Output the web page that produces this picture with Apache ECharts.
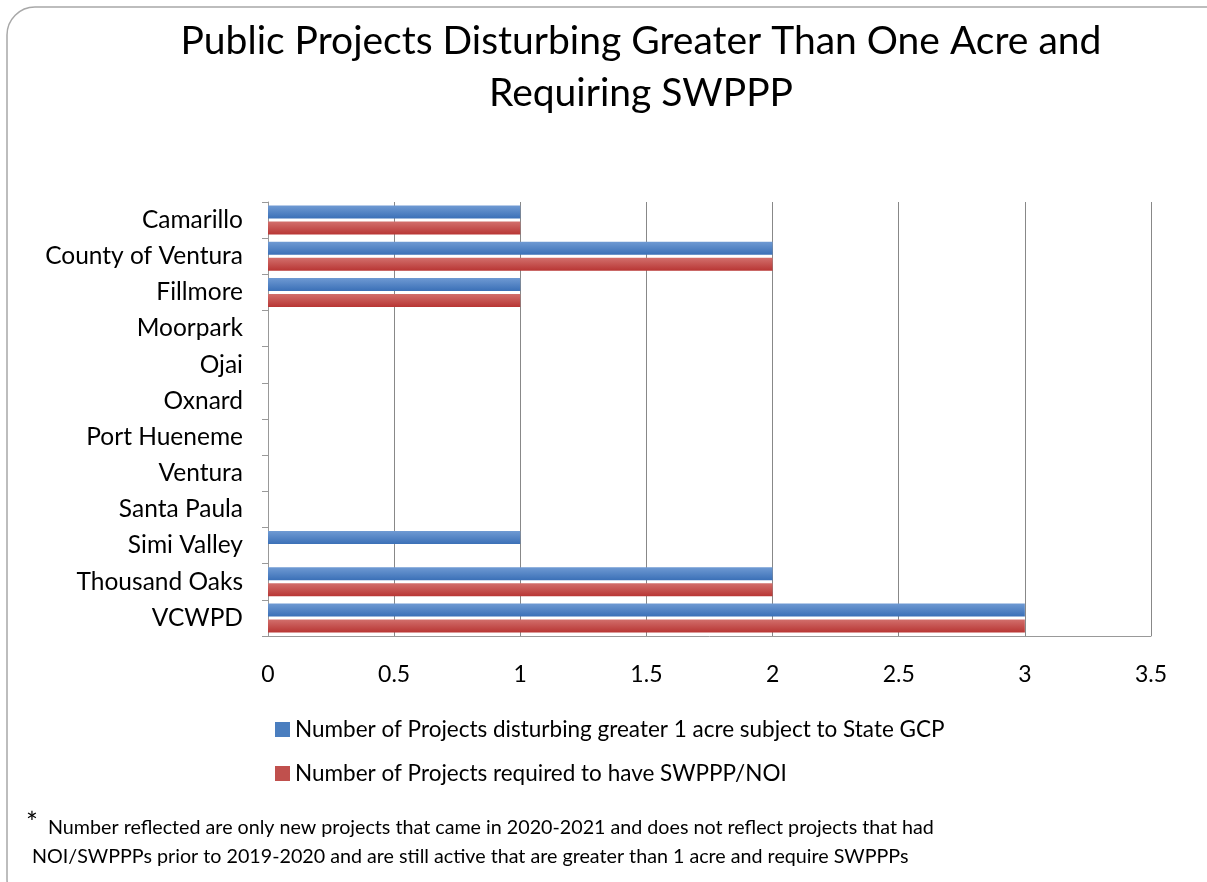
<!DOCTYPE html>
<html><head><meta charset="utf-8">
<script src="https://cdn.jsdelivr.net/npm/echarts@6/dist/echarts.min.js"></script>
<style>html,body{margin:0;padding:0;background:#fff}#c{width:1207px;height:882px}</style>
</head><body><div id="c"></div>
<script>
const categories = ['Camarillo','County of Ventura','Fillmore','Moorpark','Ojai','Oxnard','Port Hueneme','Ventura','Santa Paula','Simi Valley','Thousand Oaks','VCWPD'];
const gcpProjects = [1,2,1,0,0,0,0,0,0,1,2,3];
const swpppProjects = [1,2,1,0,0,0,0,0,0,0,2,3];
const xTicks = [0,0.5,1,1.5,2,2.5,3,3.5];
const seriesNames = ['Number of Projects disturbing greater 1 acre subject to State GCP','Number of Projects required to have SWPPP/NOI'];
const titleText = 'Public Projects Disturbing Greater Than One Acre and\nRequiring SWPPP';
const footLine1 = 'Number reflected are only new projects that came in 2020-2021 and does not reflect projects that had';
const footLine2 = 'NOI/SWPPPs prior to 2019-2020 and are still active that are greater than 1 acre and require SWPPPs';

const FONT = 'Lato, "Open Sans", sans-serif';
const grad = (a,b)=>new echarts.graphic.LinearGradient(0,0,0,1,[{offset:0,color:a},{offset:1,color:b}]);
const chart = echarts.init(document.getElementById('c'));
chart.setOption({
  animation:false,
  title:{text:titleText,left:636,textAlign:'center',top:10,textStyle:{fontFamily:FONT,fontSize:39,fontWeight:'normal',color:'#000',lineHeight:52}},
  grid:{left:268,right:56,top:202,bottom:246},
  legend:{orient:'vertical',left:270,top:713,itemGap:21,itemWidth:15,itemHeight:15,icon:'rect',
    textStyle:{fontFamily:FONT,fontSize:22.5,color:'#000'},
    data:[{name:seriesNames[0],itemStyle:{color:'#4a7ebf'}},{name:seriesNames[1],itemStyle:{color:'#c0504d'}}]},
  xAxis:{type:'value',min:0,max:3.5,interval:0.5,
    axisLine:{show:true,lineStyle:{color:'#999'}},axisTick:{show:false},
    splitLine:{show:true,lineStyle:{color:'#888',width:1}},
    axisLabel:{fontFamily:FONT,fontSize:23,color:'#000',margin:27,formatter:v=>String(v)}},
  yAxis:{type:'category',data:categories,inverse:true,
    axisLine:{show:true,lineStyle:{color:'#999'}},axisTick:{show:true,length:6,lineStyle:{color:'#999'}},
    axisLabel:{fontFamily:FONT,fontSize:24.5,color:'#000',margin:25}},
  series:[
    {name:seriesNames[0],type:'bar',data:gcpProjects,barWidth:13,barGap:'23%',itemStyle:{color:grad('#6f9ad3','#3b70b7')}},
    {name:seriesNames[1],type:'bar',data:swpppProjects,barWidth:13,barGap:'23%',itemStyle:{color:grad('#d26f6c','#b83634')}}
  ],
  graphic:[
    {type:'rect',shape:{x:7,y:7,width:1240,height:900,r:28},style:{fill:'none',stroke:'#a8a8a8',lineWidth:1.5},silent:true},
    {type:'text',left:26,top:810,style:{text:'*',fontFamily:FONT,fontSize:28,fill:'#000'}},
    {type:'text',left:48,top:818,style:{text:footLine1,fontFamily:FONT,fontSize:19.7,fill:'#000'}},
    {type:'text',left:32,top:847,style:{text:footLine2,fontFamily:FONT,fontSize:19.7,fill:'#000'}}
  ]
});
</script></body></html>
